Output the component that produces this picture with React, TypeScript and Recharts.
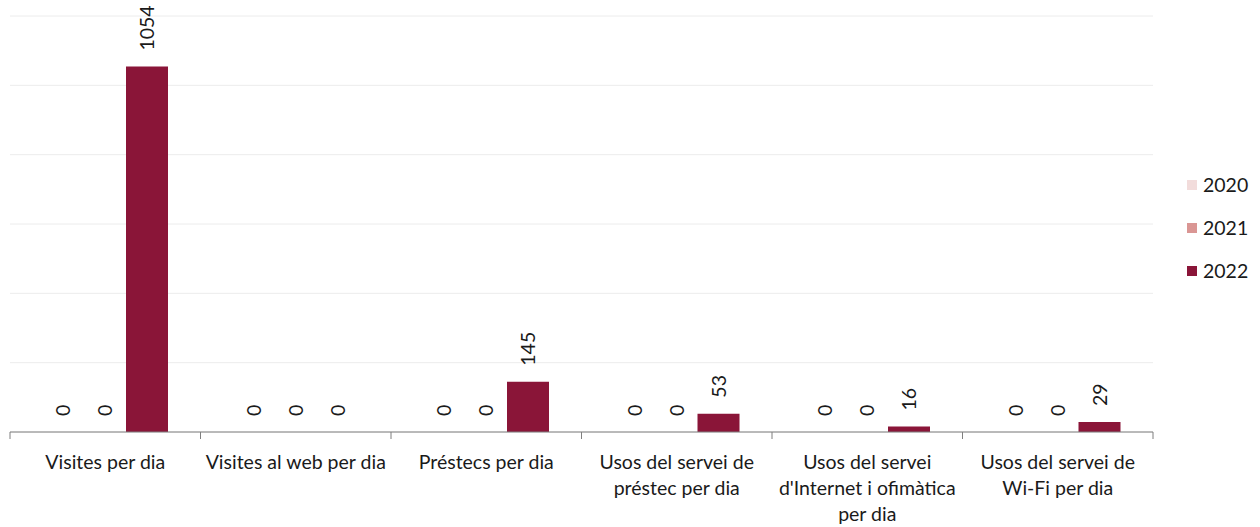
import { Bar, BarChart, CartesianGrid, LabelList, Legend, XAxis, YAxis } from "recharts"

const categories = [
  "Visites per dia",
  "Visites al web per dia",
  "Préstecs per dia",
  "Usos del servei de\npréstec per dia",
  "Usos del servei\nd'Internet i ofimàtica\nper dia",
  "Usos del servei de\nWi-Fi per dia",
]
const values2020 = [0, 0, 0, 0, 0, 0]
const values2021 = [0, 0, 0, 0, 0, 0]
const values2022 = [1054, 0, 145, 53, 16, 29]
const years = ["2020", "2021", "2022"]
const yTicks = [0, 200, 400, 600, 800, 1000, 1200]

const colors = ["#F2DCDB", "#DA9694", "#8A1538"]
const FONT = "Lato, 'Open Sans', sans-serif"
const FS = 19.5

const W = 1260
const H = 527
const M = { top: 16, right: 0, left: 10, bottom: 0 }
const LEGEND_W = 107
const BAND = (W - M.left - LEGEND_W) / categories.length

const data = categories.map((name, i) => ({
  name,
  y2020: values2020[i],
  y2021: values2021[i],
  y2022: values2022[i],
}))

function CategoryTick(props: any) {
  const { x, y, payload, index } = props
  const lines = String(payload.value).split("\n")
  const axisY = y - 8
  return (
    <g>
      <line x1={x - BAND / 2} x2={x - BAND / 2} y1={axisY} y2={axisY + 7} stroke="#7f7f7f" />
      {index === categories.length - 1 && (
        <line x1={x + BAND / 2} x2={x + BAND / 2} y1={axisY} y2={axisY + 7} stroke="#7f7f7f" />
      )}
      {lines.map((l, i) => (
        <text
          key={i}
          x={x}
          y={axisY + 29 + i * 26}
          textAnchor="middle"
          dominantBaseline="central"
          fontSize={FS}
          fontFamily={FONT}
          fill="#1a1a1a"
        >
          {l}
        </text>
      ))}
    </g>
  )
}

function ValueLabel(props: any) {
  const { x, y, width, value } = props
  const cx = Number(x) + Number(width) / 2
  const ty = Number(y) - 16
  return (
    <text
      x={cx}
      y={ty}
      transform={`rotate(-90, ${cx}, ${ty})`}
      textAnchor="start"
      dominantBaseline="central"
      fontSize={FS}
      fontFamily={FONT}
      fill="#1a1a1a"
    >
      {String(value)}
    </text>
  )
}

function LegendContent() {
  return (
    <div style={{ width: LEGEND_W, paddingLeft: 34, boxSizing: "border-box", fontFamily: FONT }}>
      {years.map((yr, i) => (
        <div key={yr} style={{ display: "flex", alignItems: "center", height: 43, fontSize: FS, color: "#1a1a1a" }}>
          <span style={{ display: "inline-block", width: 10, height: 10, background: colors[i], marginRight: 6 }} />
          {yr}
        </div>
      ))}
    </div>
  )
}

export default function App() {
  return (
    <div style={{ position: "absolute", left: 0, top: 0, width: W, height: H, background: "#fff" }}>
      <BarChart width={W} height={H} data={data} margin={M} barCategoryGap={32} barGap={0}>
        <CartesianGrid horizontal vertical={false} stroke="#ececec" />
        <XAxis
          dataKey="name"
          height={95}
          interval={0}
          tickLine={false}
          axisLine={{ stroke: "#7f7f7f" }}
          tick={<CategoryTick />}
        />
        <YAxis hide domain={[0, 1200]} ticks={yTicks} />
        <Legend
          layout="vertical"
          align="right"
          verticalAlign="top"
          content={<LegendContent />}
          wrapperStyle={{ top: 163, right: 0, width: LEGEND_W }}
        />
        {years.map((yr, i) => (
          <Bar key={yr} dataKey={`y${yr}`} name={yr} fill={colors[i]} minPointSize={0.01} isAnimationActive={false}>
            <LabelList dataKey={`y${yr}`} content={<ValueLabel />} />
          </Bar>
        ))}
      </BarChart>
    </div>
  )
}
